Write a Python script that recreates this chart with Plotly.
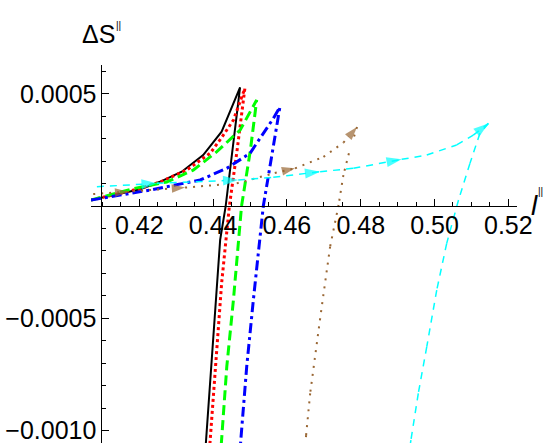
import plotly.graph_objects as go

# ---- data ----
l_black = [0.4069, 0.4148, 0.4202, 0.4256, 0.4315, 0.4373, 0.4423, 0.4473,
           0.4453, 0.4434, 0.4419, 0.4401, 0.4381, 0.4379]
s_black = [0.0000267, 0.0000565, 0.0000744, 0.000108, 0.000153, 0.000227, 0.000331, 0.000528,
           0.000249, 0.0, -0.000151, -0.000567, -0.001042, -0.001086]

l_red = [0.4069, 0.4148, 0.4202, 0.4256, 0.4328, 0.4392, 0.4424, 0.4455, 0.4486,
         0.4465, 0.4444, 0.4423, 0.4410, 0.4392, 0.4390]
s_red = [0.0000267, 0.0000565, 0.0000779, 0.000107, 0.000160, 0.000235, 0.000307, 0.000383, 0.000524,
         0.000249, 0.0, -0.000344, -0.000641, -0.001042, -0.001086]

l_green = [0.4069, 0.4184, 0.4274, 0.4346, 0.4410, 0.4473, 0.4518,
           0.4501, 0.4477, 0.4455, 0.4437, 0.4423, 0.4421]
s_green = [0.0000267, 0.0000779, 0.000107, 0.000160, 0.000242, 0.000338, 0.000472,
           0.000249, 0.0, -0.000418, -0.000715, -0.001042, -0.001086]

l_blue = [0.4069, 0.4229, 0.4365, 0.4437, 0.4500, 0.4563, 0.4581,
          0.4562, 0.4536, 0.4509, 0.4491, 0.4475, 0.4473]
s_blue = [0.0000267, 0.0000712, 0.000116, 0.000168, 0.000235, 0.000390, 0.000441,
          0.000249, 0.0, -0.000418, -0.000715, -0.001042, -0.001086]

l_brown = [0.4075, 0.4170, 0.4324, 0.4464, 0.4567, 0.4622, 0.4699, 0.4753, 0.4790,
           0.4768, 0.4753, 0.4740, 0.4717, 0.4690, 0.4663, 0.4652, 0.4649]
s_brown = [0.0000534, 0.0000637, 0.0000824, 0.000101, 0.000147, 0.000168, 0.000219, 0.000282, 0.000352,
           0.000235, 0.000138, 0.0000045, -0.000181, -0.000500, -0.000834, -0.001020, -0.001086]
arrows_brown = [1, 2, 5, 8]

l_cyan = [0.4085, 0.4247, 0.4468, 0.4563, 0.4690, 0.4780, 0.4911, 0.4979, 0.5060, 0.5105, 0.5146,
          0.5123, 0.5096, 0.5065, 0.5033, 0.5006, 0.4979, 0.4956, 0.4936, 0.4932]
s_cyan = [0.0000859, 0.000101, 0.000116, 0.000128, 0.000153, 0.000168, 0.000208, 0.000227, 0.000272,
          0.000316, 0.000368,
          0.000324, 0.000190, 0.0000267, -0.000166, -0.000374, -0.000626, -0.000834, -0.001042, -0.001086]
arrows_cyan = [1, 2, 4, 6, 10]

y_tickvals = [0.0005, -0.0005, -0.0010]
y_ticktext = ["0.0005", "\u22120.0005", "\u22120.0010"]

FONT = "Liberation Sans, Arial, sans-serif"
TFS = 25

fig = go.Figure()

def add(l, s, color, width, dash, arrows=None, asize=14):
    kw = {}
    mode = "lines"
    if arrows is not None:
        mode = "lines+markers"
        sizes = [asize if i in arrows else 0 for i in range(len(l))]
        kw["marker"] = dict(symbol="arrow", size=sizes, color=color, angleref="previous",
                            line=dict(width=0))
    fig.add_trace(go.Scatter(x=l, y=s, mode=mode, line=dict(color=color, width=width, dash=dash),
                             showlegend=False, hoverinfo="skip", xaxis="x", yaxis="y", **kw))

add(l_black, s_black, "#000000", 2, "solid")
add(l_red, s_red, "#ff0000", 3, "dot")
add(l_green, s_green, "#00ff00", 3, "10px,5px")
add(l_blue, s_blue, "#0000ff", 3, "10px,4px,3px,4px")
add(l_brown, s_brown, "#996633", 2, "2px,6px", arrows_brown, 14)
add(l_cyan, s_cyan, "#00ffff", 1.5, "7px,6px", arrows_cyan, 16)

# empty helper traces: separate subplots that only carry the visible axes through the origin
fig.add_trace(go.Scatter(x=[], y=[], xaxis="x2", yaxis="y2", showlegend=False, hoverinfo="skip"))
fig.add_trace(go.Scatter(x=[], y=[], xaxis="x3", yaxis="y3", showlegend=False, hoverinfo="skip"))

x0, x1 = 0.4069, 0.52235
y0, y1 = -0.001055, 0.000628
py = (0 - y0) / (y1 - y0)      # where ΔS = 0 sits inside the plot area
px = (0.41 - x0) / (x1 - x0)   # where l = 0.41 sits inside the plot area

hidden = dict(showgrid=False, zeroline=False, showline=False, showticklabels=False, ticks="")

fig.update_layout(
    width=543, height=443, autosize=False,
    margin=dict(l=91, r=26, t=65, b=0, pad=0),
    paper_bgcolor="white", plot_bgcolor="rgba(0,0,0,0)",
    font=dict(family=FONT, color="black"),
    # data axes (invisible)
    xaxis=dict(domain=[0, 1], range=[x0, x1], anchor="y", **hidden),
    yaxis=dict(domain=[0, 1], range=[y0, y1], anchor="x", **hidden),
    # visible horizontal axis along ΔS = 0
    xaxis2=dict(domain=[0, 1], range=[x0, x1], anchor="y2", side="bottom",
                showgrid=False, zeroline=False, showline=True, linecolor="black", linewidth=1,
                ticks="inside", ticklen=7, tickcolor="black", tick0=0.42, dtick=0.02,
                tickformat=".2f", tickfont=dict(size=TFS, family=FONT, color="black"),
                ticklabeloverflow="allow", ticklabelstandoff=-3,
                minor=dict(ticks="inside", ticklen=4, dtick=0.005, tick0=0.0, tickcolor="black",
                           showgrid=False)),
    yaxis2=dict(domain=[py, 1], range=[0, 1], anchor="x2", **hidden),
    # visible vertical axis along l = 0.41
    xaxis3=dict(domain=[px, 1], range=[0, 1], anchor="y3", **hidden),
    yaxis3=dict(domain=[0, 1], range=[y0, y1], anchor="x3", side="left",
                showgrid=False, zeroline=False, showline=True, linecolor="black", linewidth=1,
                ticks="inside", ticklen=7, tickcolor="black", tickmode="array",
                tickvals=y_tickvals, ticktext=y_ticktext,
                tickfont=dict(size=TFS, family=FONT, color="black"),
                ticklabeloverflow="allow",
                minor=dict(ticks="inside", ticklen=4, dtick=0.0001, tick0=0.0, tickcolor="black",
                           showgrid=False)),
    annotations=[
        dict(text="\u0394S", xref="paper", yref="paper", x=-0.0258, y=1.082, xanchor="left",
             yanchor="middle", showarrow=False, font=dict(size=TFS, family=FONT)),
        dict(text="||", xref="paper", yref="paper", x=0.0540, y=1.1045, xanchor="left",
             yanchor="middle", showarrow=False, font=dict(size=10, family=FONT)),
        dict(text="<i>l</i>", xref="paper", yref="paper", x=1.0400, y=0.629, xanchor="center",
             yanchor="middle", showarrow=False, font=dict(size=28, family=FONT)),
        dict(text="||", xref="paper", yref="paper", x=1.0550, y=0.6653, xanchor="center",
             yanchor="middle", showarrow=False, font=dict(size=10, family=FONT)),
    ],
)

fig.write_html("out.html")
